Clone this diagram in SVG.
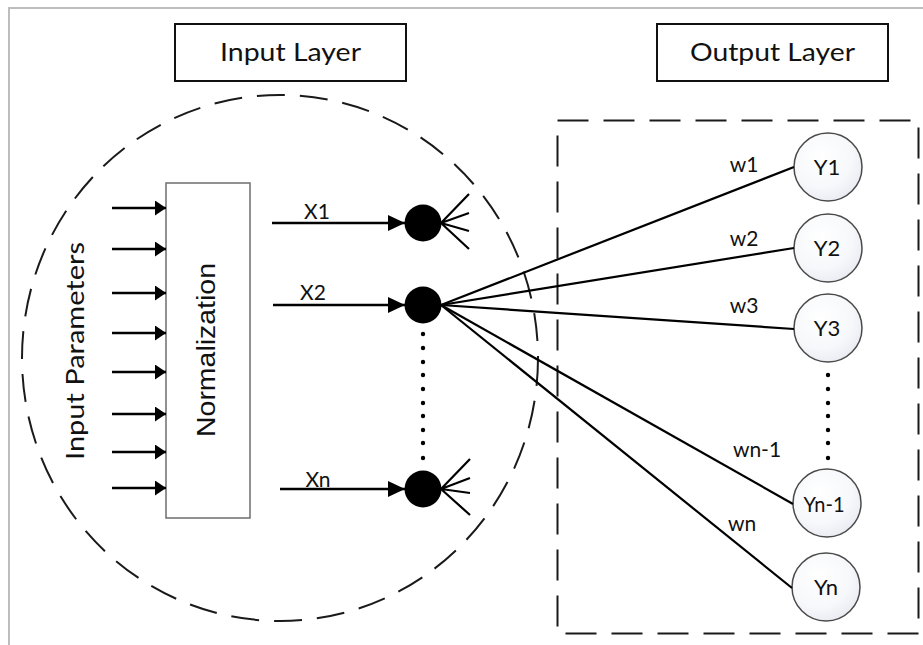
<svg xmlns="http://www.w3.org/2000/svg" width="923" height="645" viewBox="0 0 923 645">
  <style>
    .frame { fill: none; stroke: #bdbdbd; stroke-width: 2; }
    .title-box { fill: #ffffff; stroke: #111111; stroke-width: 2; }
    .title { font-family: Lato, "Open Sans", sans-serif; font-size: 25px; fill: #111111; text-anchor: middle; }
    .label { font-family: Lato, "Open Sans", sans-serif; font-size: 21px; fill: #111111; text-anchor: middle; }
    .ylabel { font-family: Lato, "Open Sans", sans-serif; font-size: 22px; fill: #111111; text-anchor: middle; }
    .norm { font-family: "Liberation Sans", Arial, sans-serif; font-size: 26px; fill: #111111; text-anchor: middle; }
    .dash-ellipse { fill: none; stroke: #1a1a1a; stroke-width: 2; stroke-dasharray: 28 15; }
    .dash-rect { fill: none; stroke: #1a1a1a; stroke-width: 2; stroke-dasharray: 31 15; }
    .norm-box { fill: #ffffff; stroke: #6e6e6e; stroke-width: 1.5; }
    .in-arrow { stroke: #000000; stroke-width: 2.4; marker-end: url(#headSmall); }
    .x-arrow { stroke: #000000; stroke-width: 2.4; marker-end: url(#headLarge); }
    .link { stroke: #000000; stroke-width: 2.2; fill: none; }
    .fan { stroke: #000000; stroke-width: 2.2; fill: none; }
    .neuron { fill: #000000; }
    .out-node { fill: url(#nodeFill); stroke: #4a4a4a; stroke-width: 1.5; }
    .dot { fill: #000000; }
  </style>
  <defs>
    <marker id="headSmall" markerUnits="userSpaceOnUse" markerWidth="12" markerHeight="15" refX="11" refY="7.5" orient="auto">
      <path d="M0,0 L11,7.5 L0,15 Z" fill="#000000"/>
    </marker>
    <marker id="headLarge" markerUnits="userSpaceOnUse" markerWidth="18" markerHeight="16" refX="17" refY="8" orient="auto">
      <path d="M0,0 L17,8 L0,16 Z" fill="#000000"/>
    </marker>
    <radialGradient id="nodeFill" cx="0.4" cy="0.35" r="0.75">
      <stop offset="0" stop-color="#ffffff"/>
      <stop offset="0.6" stop-color="#f7f8fb"/>
      <stop offset="1" stop-color="#e6e8f0"/>
    </radialGradient>
  </defs>

  <!-- page frame -->
  <rect class="frame" x="9" y="8" width="1000" height="1000"/>

  <!-- layer titles -->
  <g id="input-layer-title">
    <rect class="title-box" x="175" y="24" width="231" height="57"/>
    <text class="title" x="290.5" y="61" textLength="141" lengthAdjust="spacingAndGlyphs">Input Layer</text>
  </g>
  <g id="output-layer-title">
    <rect class="title-box" x="657" y="24" width="231" height="57"/>
    <text class="title" x="772.5" y="61" textLength="165" lengthAdjust="spacingAndGlyphs">Output Layer</text>
  </g>

  <!-- layer boundaries -->
  <g id="input-layer-boundary">
    <ellipse class="dash-ellipse" cx="280" cy="358" rx="258" ry="263"/>
  </g>
  <g id="output-layer-boundary">
    <rect class="dash-rect" x="557.5" y="120.5" width="361" height="513"/>
  </g>

  <!-- input parameters label -->
  <g id="input-parameters">
    <text class="title" font-size="23" transform="translate(84,351) rotate(-90)" x="0" y="0" textLength="218" lengthAdjust="spacingAndGlyphs">Input Parameters</text>
  </g>

  <!-- normalization block -->
  <g id="normalization">
    <rect class="norm-box" x="166" y="183" width="84" height="335"/>
    <text class="norm" transform="translate(215,350) rotate(-90)" x="0" y="0" textLength="174" lengthAdjust="spacingAndGlyphs">Normalization</text>
  </g>

  <!-- input neurons -->
  <g id="neuron-x1">
    <circle class="neuron" cx="423" cy="223" r="18.5"/>
  </g>
  <g id="neuron-x2">
    <circle class="neuron" cx="423" cy="305" r="18.5"/>
  </g>
  <g id="neuron-xn">
    <circle class="neuron" cx="423" cy="489" r="18.5"/>
  </g>
  <g id="input-dots">
    <circle class="dot" cx="423" cy="334" r="2.2"/>
    <circle class="dot" cx="423" cy="348" r="2.2"/>
    <circle class="dot" cx="423" cy="362" r="2.2"/>
    <circle class="dot" cx="423" cy="375" r="2.2"/>
    <circle class="dot" cx="423" cy="389" r="2.2"/>
    <circle class="dot" cx="423" cy="403" r="2.2"/>
    <circle class="dot" cx="423" cy="416" r="2.2"/>
    <circle class="dot" cx="423" cy="430" r="2.2"/>
    <circle class="dot" cx="423" cy="443" r="2.2"/>
    <circle class="dot" cx="423" cy="458" r="2.2"/>
  </g>

  <!-- output neurons -->
  <g id="node-y1">
    <circle class="out-node" cx="828" cy="167" r="34"/>
    <text class="ylabel" x="827" y="175">Y1</text>
  </g>
  <g id="node-y2">
    <circle class="out-node" cx="828" cy="248" r="34"/>
    <text class="ylabel" x="827" y="256">Y2</text>
  </g>
  <g id="node-y3">
    <circle class="out-node" cx="828" cy="328" r="34"/>
    <text class="ylabel" x="827" y="336">Y3</text>
  </g>
  <g id="node-yn-1">
    <circle class="out-node" cx="827" cy="503" r="34"/>
    <text class="ylabel" x="824" y="512" textLength="41" lengthAdjust="spacingAndGlyphs">Yn-1</text>
  </g>
  <g id="node-yn">
    <circle class="out-node" cx="826" cy="587" r="34"/>
    <text class="ylabel" x="826" y="595">Yn</text>
  </g>
  <g id="output-dots">
    <circle class="dot" cx="828" cy="375" r="2.2"/>
    <circle class="dot" cx="828" cy="389" r="2.2"/>
    <circle class="dot" cx="828" cy="403" r="2.2"/>
    <circle class="dot" cx="828" cy="416" r="2.2"/>
    <circle class="dot" cx="828" cy="430" r="2.2"/>
    <circle class="dot" cx="828" cy="443" r="2.2"/>
    <circle class="dot" cx="828" cy="458" r="2.2"/>
  </g>

  <!-- connectors -->
  <g id="connectors">
    <!-- raw inputs into normalization -->
    <line class="in-arrow" x1="112" y1="208" x2="166" y2="208"/>
    <line class="in-arrow" x1="112" y1="249" x2="166" y2="249"/>
    <line class="in-arrow" x1="112" y1="293" x2="166" y2="293"/>
    <line class="in-arrow" x1="112" y1="333" x2="166" y2="333"/>
    <line class="in-arrow" x1="112" y1="372" x2="166" y2="372"/>
    <line class="in-arrow" x1="112" y1="414" x2="166" y2="414"/>
    <line class="in-arrow" x1="112" y1="452" x2="166" y2="452"/>
    <line class="in-arrow" x1="112" y1="488" x2="166" y2="488"/>

    <!-- normalized values into neurons -->
    <line class="x-arrow" x1="272" y1="223" x2="405" y2="223"/>
    <line class="x-arrow" x1="273" y1="305" x2="405" y2="305"/>
    <line class="x-arrow" x1="280" y1="489" x2="405" y2="489"/>

    <!-- fan-outs of X1 and Xn -->
    <path class="fan" d="M441,223 L469,194 M441,223 L469,213 M441,223 L469,231 M441,223 L469,249"/>
    <path class="fan" d="M441,489 L470,459 M441,489 L470,478 M441,489 L470,493 M441,489 L470,515"/>

    <!-- weighted links from X2 to outputs -->
    <line class="link" x1="441" y1="305" x2="794" y2="167"/>
    <line class="link" x1="441" y1="305" x2="794" y2="248"/>
    <line class="link" x1="441" y1="305" x2="794" y2="329"/>
    <line class="link" x1="441" y1="305" x2="793" y2="504"/>
    <line class="link" x1="441" y1="305" x2="792" y2="588"/>
  </g>

  <!-- connector labels -->
  <g id="connector-labels">
    <text class="label" x="317" y="219">X1</text>
    <text class="label" x="313" y="300">X2</text>
    <text class="label" x="318" y="487">Xn</text>
    <text class="label" x="744" y="172">w1</text>
    <text class="label" x="744" y="246">w2</text>
    <text class="label" x="744" y="313">w3</text>
    <text class="label" x="757" y="457">wn-1</text>
    <text class="label" x="742" y="531">wn</text>
  </g>
</svg>
